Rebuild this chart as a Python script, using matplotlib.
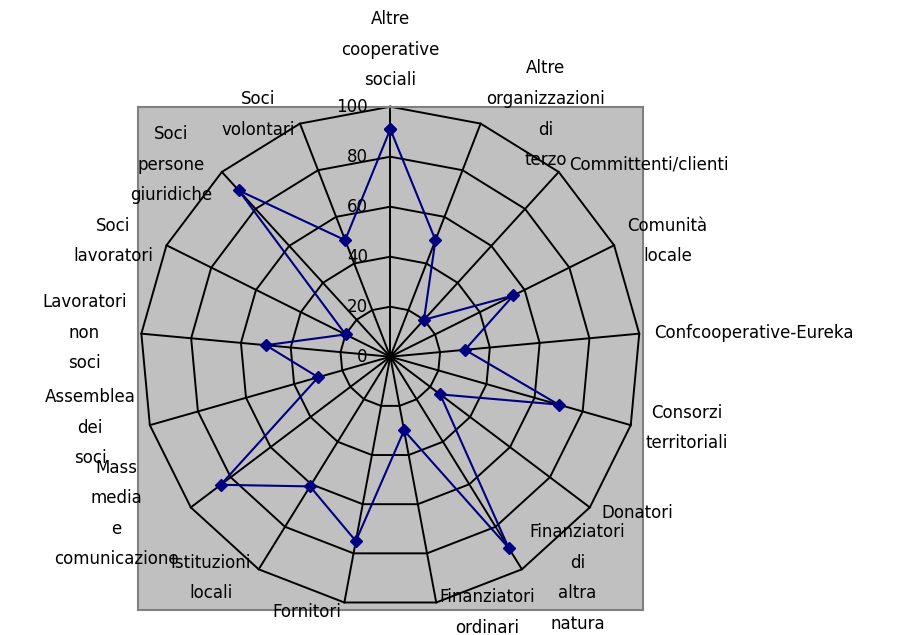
import numpy as np
import matplotlib
matplotlib.use('Agg')
import matplotlib.pyplot as plt

# categorie (in senso orario a partire dall'alto)
categorie = ['Altre\ncooperative\nsociali', 'Altre\norganizzazioni\ndi\nterzo',
             'Committenti/clienti', 'Comunità\nlocale', 'Confcooperative-Eureka',
             'Consorzi\nterritoriali', 'Donatori', 'Finanziatori\ndi\naltra\nnatura',
             'Finanziatori\nordinari', 'Fornitori', 'Istituzioni\nlocali',
             'Mass\nmedia\ne\ncomunicazione', 'Assemblea\ndei\nsoci',
             'Lavoratori\nnon\nsoci', 'Soci\nlavoratori',
             'Soci\npersone\ngiuridiche', 'Soci\nvolontari']
valori = [91, 50, 20, 55, 30, 70, 25, 90, 30, 75, 61, 85, 30, 50, 20, 90, 50]
livelli = [0, 20, 40, 60, 80, 100]

plt.rcParams['font.family'] = ['DejaVu Sans']

n = len(categorie)
ang = np.deg2rad(90 - np.arange(n) * 360.0 / n)
cx, cy = np.cos(ang), np.sin(ang)

fig = plt.figure(figsize=(9.16, 6.35), dpi=100)
ax = fig.add_axes([138.3/916, (635-610)/635, 504.4/916, 503.3/635])
ax.set_facecolor('#C0C0C0')
for s in ax.spines.values():
    s.set_color('#808080')
    s.set_linewidth(1.5)
ax.set_xlim(-100.8, 100.96)
ax.set_ylim(-101.3, 100)
ax.set_xticks([])
ax.set_yticks([])

# griglia poligonale
for lv in livelli[1:]:
    ax.plot(np.append(cx, cx[0]) * lv, np.append(cy, cy[0]) * lv,
            color='black', lw=1.4, clip_on=False, zorder=2)
for i in range(n):
    ax.plot([0, cx[i]*100], [0, cy[i]*100], color='black', lw=1.4,
            clip_on=False, zorder=2)

# serie
v = np.array(valori, dtype=float)
ax.plot(np.append(cx*v, cx[0]*v[0]), np.append(cy*v, cy[0]*v[0]),
        color='#000080', lw=1.5, marker='D', ms=6.5, mfc='#000080',
        mec='#000080', clip_on=False, zorder=3)

# etichette dell'asse
for lv in livelli:
    ax.text(-9, lv, str(lv), ha='right', va='center', fontsize=12)

# etichette delle categorie
for i, lab in enumerate(categorie):
    if i == 0:
        ax.text(0, 107, lab, ha='center', va='bottom', fontsize=12,
                linespacing=1.9, multialignment='center', clip_on=False)
        continue
    ha = 'left' if cx[i] > 0 else 'right'
    ax.text(cx[i]*106, cy[i]*104, lab, ha=ha, va='center', fontsize=12,
            linespacing=1.9, multialignment='center', clip_on=False)

fig.savefig('out.png', dpi=100)
